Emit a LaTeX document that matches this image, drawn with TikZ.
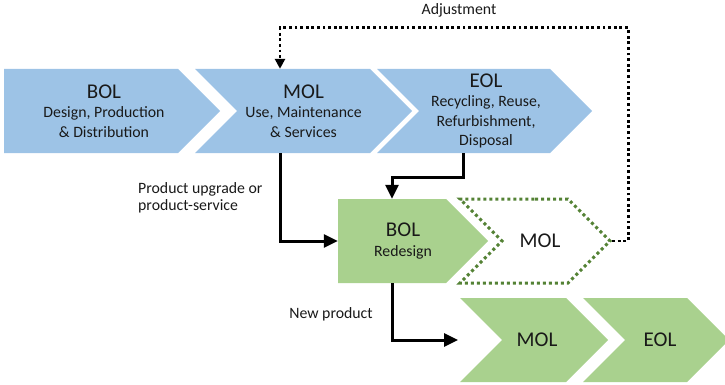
\documentclass[tikz,border=0pt]{standalone}
\usepackage{fontspec}
\setmainfont{Carlito}
\usetikzlibrary{arrows.meta,positioning,calc,shapes.symbols}
\definecolor{PhaseBlue}{RGB}{157,195,230}
\definecolor{PhaseGreen}{RGB}{169,209,142}
\definecolor{DotGreen}{RGB}{84,130,53}
\definecolor{Ink}{RGB}{25,25,25}
\tikzset{
  phase/.style={signal, signal to=east, signal pointer angle=90, draw=none,
    inner sep=0pt, minimum height=84pt},
  bluephase/.style={phase, fill=PhaseBlue},
  greenphase/.style={phase, fill=PhaseGreen},
  notched/.style={signal from=west},
  ghost/.style={phase, notched, fill=none, draw=DotGreen, line width=3pt, dash pattern=on 3pt off 3pt},
  phtext/.style={text=Ink, align=center, inner sep=0pt, font=\fontsize{15.8}{19.5}\selectfont},
  lbl/.style={font=\fontsize{15.8}{17.5}\selectfont, text=Ink, align=left, inner sep=0pt},
  flowarr/.style={-{Triangle[length=14pt,width=13pt]}, draw=black, line width=3pt},
  adjarr/.style={-{Triangle[length=10pt,width=10pt]}, draw=black, line width=2.8pt, dash pattern=on 2.8pt off 2.8pt},
}
\newcommand{\phtitle}[1]{{\fontsize{21}{19.5}\selectfont #1}}

\begin{document}
\begin{tikzpicture}[x=1pt,y=-1pt]
\useasboundingbox (0,0) rectangle (725,385);

% ---------------- first life cycle ----------------
\node[bluephase, minimum width=216pt] (bol) at (91,111) {};
\node[bluephase, notched, minimum width=217pt] (mol) at (303.5,111) {};
\node[bluephase, notched, minimum width=215pt] (eol) at (484.5,111) {};
\node[phtext] (boltxt) at ([xshift=13pt]bol.center) {\phtitle{BOL}\\Design, Production\\\& Distribution};
\node[phtext] (moltxt) at (mol.center) {\phtitle{MOL}\\Use, Maintenance\\\& Services};
\node[phtext] (eoltxt) at ([xshift=1.5pt]eol.center) {\phtitle{EOL}\\Recycling, Reuse,\\Refurbishment,\\Disposal};

% ---------------- redesign + next life cycle ----------------
\node[greenphase, minimum width=150pt] (gbol) at (392,241) {};
\node[ghost, minimum width=150pt] (dmol) at (535,241) {};
\node[greenphase, notched, minimum width=148pt] (nmol) at (534,340) {};
\node[greenphase, notched, minimum width=146pt] (neol) at (656,340) {};
\node[phtext] (gboltxt) at ([xshift=11pt]gbol.center) {\phtitle{BOL}\\Redesign};
\node[phtext] (dmoltxt) at ([xshift=5pt]dmol.center) {\phtitle{MOL}};
\node[phtext] (nmoltxt) at ([xshift=3pt]nmol.center) {\phtitle{MOL}};
\node[phtext] (neoltxt) at ([xshift=4pt]neol.center) {\phtitle{EOL}};

% ---------------- labels ----------------
\node[lbl, anchor=base] (adjlbl) at (459,15) {Adjustment};
\node[lbl, anchor=north west] (uplbl) at (138,182) {Product upgrade or\\product-service};
\node[lbl, anchor=base] (newlbl) at (331,318) {New product};

% ---------------- connectors ----------------
\draw[adjarr] (dmol.east) -- ++(16,0) |- ([xshift=-23.5pt,yshift=41pt]mol.north)
  -- ([xshift=-23.5pt]mol.north);
\draw[flowarr] ([xshift=-23.5pt]mol.south) |- (gbol.west);
\draw[flowarr] ([xshift=-21.5pt]eol.south) -- ++(0,24) -| (gbol.north);
\draw[flowarr] (gbol.south) |- ([xshift=-76pt]nmol.center);

\end{tikzpicture}
\end{document}
